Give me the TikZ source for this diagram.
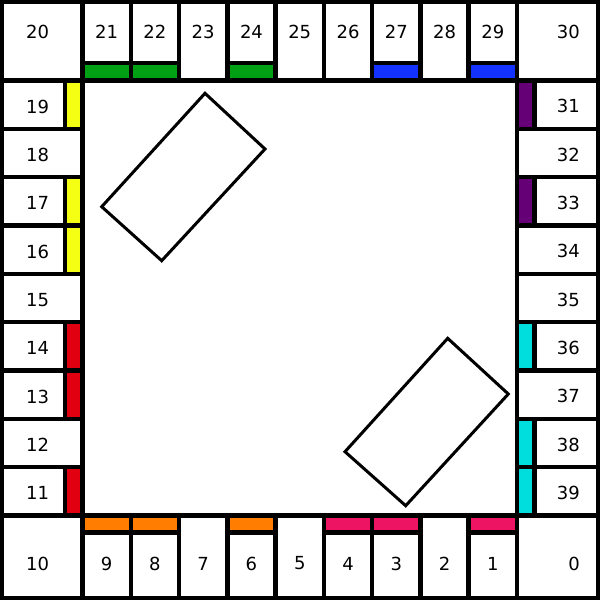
\documentclass[tikz,border=0pt]{standalone}
\usepackage{fontspec}
\setmainfont{DejaVu Sans}
\definecolor{propgreen}{RGB}{0,160,20}
\definecolor{propblue}{RGB}{20,50,255}
\definecolor{proppurple}{RGB}{102,0,119}
\definecolor{propcyan}{RGB}{0,221,221}
\definecolor{proppink}{RGB}{238,20,100}
\definecolor{proporange}{RGB}{255,125,0}
\definecolor{propred}{RGB}{224,0,16}
\definecolor{propyellow}{RGB}{245,255,20}
\tikzset{
  cellline/.style={draw=black, line width=4.5pt},
  colstrip/.style={fill=#1, draw=black, line width=4.5pt},
  cardpile/.style={draw=black, line width=3pt, fill=white},
  cellnum/.style={font=\fontsize{18}{18}\selectfont, inner sep=0pt},
}

\begin{document}
\begin{tikzpicture}[x=1pt, y=-1pt]
  \useasboundingbox (0,0) rectangle (600,600);
  \fill[white] (0,0) rectangle (600,600);
  \def\xa{82.5} \def\xb{517} \def\ya{80.5} \def\yb{515.5}
  \pgfmathsetmacro{\cw}{(\xb-\xa)/9}
  \pgfmathsetmacro{\ch}{(\yb-\ya)/9}
  % colour strips
  \foreach \k/\c in {1/propgreen, 2/propgreen, 4/propgreen, 7/propblue, 9/propblue}
    \draw[colstrip=\c] ({\xa+(\k-1)*\cw},63) rectangle ({\xa+\k*\cw},\ya);
  \foreach \k/\c in {1/proppink, 3/proppink, 4/proppink, 6/proporange, 8/proporange, 9/proporange}
    \draw[colstrip=\c] ({\xb-\k*\cw},\yb) rectangle ({\xb-(\k-1)*\cw},532.5);
  \foreach \k/\c in {1/propred, 3/propred, 4/propred, 6/propyellow, 7/propyellow, 9/propyellow}
    \draw[colstrip=\c] (65,{\yb-\k*\ch}) rectangle (\xa,{\yb-(\k-1)*\ch});
  \foreach \k/\c in {1/proppurple, 3/proppurple, 6/propcyan, 8/propcyan, 9/propcyan}
    \draw[colstrip=\c] (\xb,{\ya+(\k-1)*\ch}) rectangle (534.5,{\ya+\k*\ch});
  % cell borders
  \foreach \k in {1,...,8} {
    \draw[cellline] ({\xa+\k*\cw},2) -- ({\xa+\k*\cw},\ya);
    \draw[cellline] ({\xa+\k*\cw},\yb) -- ({\xa+\k*\cw},598);
    \draw[cellline] (2,{\ya+\k*\ch}) -- (\xa,{\ya+\k*\ch});
    \draw[cellline] (\xb,{\ya+\k*\ch}) -- (598,{\ya+\k*\ch});
  }
  \draw[cellline] (\xa,2) -- (\xa,598);
  \draw[cellline] (\xb,2) -- (\xb,598);
  \draw[cellline] (2,\ya) -- (598,\ya);
  \draw[cellline] (2,\yb) -- (598,\yb);
  \draw[line width=4pt] (2,2) rectangle (598,598);
  % numbers
  \node[cellnum, anchor=east] (sq0) at (580,563.5) {0};
  \node[cellnum] (sq10) at (37.7,563.5) {10};
  \node[cellnum] (sq20) at (37.7,32) {20};
  \node[cellnum, anchor=east] (sq30) at (580,32) {30};
  \foreach \k in {1,...,9} {
    \pgfmathtruncatemacro{\nb}{\k}
    \pgfmathtruncatemacro{\nl}{10+\k}
    \pgfmathtruncatemacro{\nt}{20+\k}
    \pgfmathtruncatemacro{\nr}{30+\k}
    \node[cellnum] (sq\nb) at ({\xb-(\k-0.5)*\cw},563.5) {\nb};
    \node[cellnum] (sq\nl) at (37.7,{\yb-(\k-0.5)*\ch+2}) {\nl};
    \node[cellnum] (sq\nt) at ({\xa+(\k-0.5)*\cw},32) {\nt};
    \node[cellnum, anchor=east] (sq\nr) at (580,{\ya+(\k-0.5)*\ch+1.5}) {\nr};
  }
  % card piles
  \draw[cardpile] (205,93.3) -- (265,149) -- (161.7,260.7) -- (101.7,206.7) -- cycle;
  \draw[cardpile] (447.7,338.3) -- (508.3,394) -- (405.7,505.7) -- (345,451.7) -- cycle;
\end{tikzpicture}
\end{document}
